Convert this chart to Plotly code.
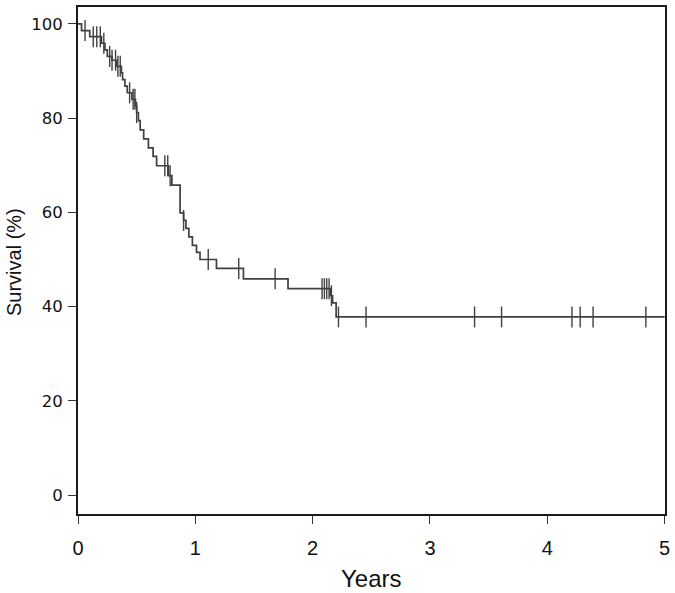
import numpy as np
import plotly.graph_objects as go

# Kaplan-Meier steps (years, survival % after the step)
event_times = [0.03, 0.10, 0.20, 0.23, 0.25, 0.29, 0.33, 0.37, 0.38, 0.40, 0.42, 0.46,
               0.49, 0.50, 0.515, 0.53, 0.56, 0.60, 0.64, 0.67, 0.77, 0.80, 0.87, 0.90,
               0.92, 0.945, 0.975, 1.01, 1.04, 1.18, 1.41, 1.79, 2.15, 2.17, 2.20]
survival = [98.6, 97.3, 95.9, 94.5, 93.1, 92.3, 91.0, 89.6, 88.2, 86.8, 85.4, 84.0,
            82.6, 81.2, 79.5, 77.5, 75.6, 73.7, 71.9, 69.9, 67.8, 65.8, 59.9, 58.3,
            56.6, 54.8, 53.0, 51.5, 50.0, 48.1, 45.9, 43.8, 42.3, 40.8, 37.8]
# censored observations (years)
censor_times = [0.06, 0.13, 0.16, 0.19, 0.22, 0.27, 0.29, 0.32, 0.34, 0.36, 0.44, 0.47,
                0.485, 0.50, 0.74, 0.765, 0.785, 0.90, 1.11, 1.37, 1.68, 2.08, 2.10,
                2.12, 2.14, 2.16, 2.22, 2.455, 3.38, 3.61, 4.21, 4.28, 4.39, 4.84]
followup_end = 5.0
x_ticks = [0, 1, 2, 3, 4, 5]
y_ticks = [0, 20, 40, 60, 80, 100]
x_title = "Years"
y_title = "Survival (%)"

line_x = [0.0] + event_times + [followup_end]
line_y = [100.0] + survival + [survival[-1]]

et = np.array(event_times)
sv = np.array([100.0] + survival)
cens_y = [sv[np.searchsorted(et, t, side="right")] for t in censor_times]

col = "#404040"
fig = go.Figure()
fig.add_trace(go.Scatter(x=line_x, y=line_y, mode="lines", line_shape="hv",
                         line=dict(color=col, width=1.7), hoverinfo="skip"))
fig.add_trace(go.Scatter(x=censor_times, y=cens_y, mode="markers",
                         marker=dict(symbol="line-ns", size=15,
                                     line=dict(color=col, width=1.4))))

axis_common = dict(showline=True, linecolor="#1a1a1a", linewidth=2, mirror=True,
                   ticks="outside", ticklen=8, tickwidth=1.3, tickcolor="#333",
                   showgrid=False, zeroline=False, automargin=False)
fig.update_layout(
    width=675, height=593, showlegend=False,
    paper_bgcolor="white", plot_bgcolor="white",
    margin=dict(l=78, r=10, t=7, b=79),
    xaxis=dict(range=[0, 5.003], tickvals=x_ticks, ticklabelstandoff=7,
               tickfont=dict(family="Liberation Sans Narrow, Liberation Sans, Arial", size=20, color="#111"),
               **axis_common),
    yaxis=dict(range=[-4.03, 103.6], tickvals=y_ticks, ticklabelstandoff=2,
               tickfont=dict(family="DejaVu Sans, Verdana", size=16.5, color="#111"),
               **axis_common),
    annotations=[
        dict(text=x_title, xref="paper", yref="paper", x=0.5, y=0, yshift=-64,
             xanchor="center", yanchor="middle", showarrow=False,
             font=dict(family="Liberation Sans Narrow, Liberation Sans, Arial", size=24, color="#111")),
        dict(text=y_title, xref="paper", yref="paper", x=0, y=0.497, xshift=-64,
             xanchor="center", yanchor="middle", textangle=-90, showarrow=False,
             font=dict(family="Liberation Sans, Arial", size=20, color="#111")),
    ],
)
fig.write_html("out.html", config={"displayModeBar": False},
               post_script="document.body.style.margin='0';document.body.style.overflow='hidden';")
